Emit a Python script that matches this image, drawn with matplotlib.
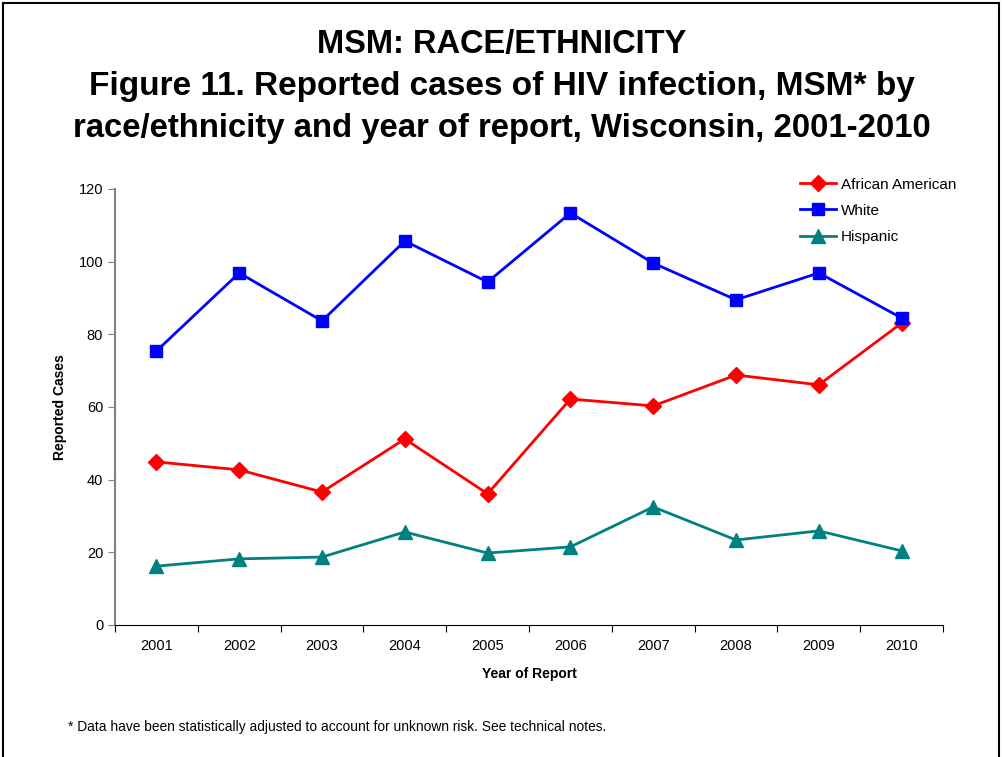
import matplotlib
matplotlib.use("Agg")
import matplotlib.pyplot as plt
from matplotlib.patches import Rectangle

years = ["2001", "2002", "2003", "2004", "2005", "2006", "2007", "2008", "2009", "2010"]
african_american = [44.9, 42.7, 36.6, 51.2, 36.1, 62.2, 60.3, 68.8, 66.1, 83.1]
white = [75.4, 96.9, 83.7, 105.7, 94.4, 113.4, 99.6, 89.5, 96.9, 84.5]
hispanic = [16.2, 18.2, 18.7, 25.6, 19.8, 21.5, 32.5, 23.4, 25.9, 20.4]

plt.rcParams['font.family'] = ['Liberation Sans', 'DejaVu Sans']

fig = plt.figure(figsize=(10.03, 7.57), dpi=100)
fig.patches.append(Rectangle((3/1003, -0.01), 996/1003, 1 - 3/757 + 0.01, transform=fig.transFigure,
                             fill=False, edgecolor='black', linewidth=1.5))

ax = fig.add_axes([115/1003, 1 - 625/757, (943 - 115)/1003, (625 - 189)/757])
x = list(range(len(years)))
ax.plot(x, african_american, color='#FF0000', marker='D', markersize=8, linewidth=2, label='African American')
ax.plot(x, white, color='#0000FF', marker='s', markersize=9, linewidth=2, label='White')
ax.plot(x, hispanic, color='#008080', marker='^', markersize=10, linewidth=2, label='Hispanic')

ax.set_xlim(-0.5, len(years) - 0.5)
ax.set_ylim(0, 120)
ax.set_yticks(range(0, 121, 20))
ax.set_xticks([i - 0.5 for i in range(len(years) + 1)])
ax.set_xticklabels([])
ax.set_xticks(x, minor=True)
ax.set_xticklabels(years, minor=True)
ax.tick_params(axis='x', which='minor', length=0, pad=10, labelsize=10.5)
ax.tick_params(axis='x', which='major', length=5, direction='out')
ax.tick_params(axis='y', length=5, direction='out', labelsize=10.5, color='#808080')

for s in ['top', 'right']:
    ax.spines[s].set_visible(False)
ax.spines['left'].set_color('#808080')
ax.spines['left'].set_linewidth(1.5)
ax.spines['bottom'].set_color('black')

ax.set_xlabel('Year of Report', fontweight='bold', fontsize=10, labelpad=10)
ax.set_ylabel('Reported Cases', fontweight='bold', fontsize=10, labelpad=8)

leg = ax.legend(loc='upper left', bbox_to_anchor=(795/1003, 1 - 173/757), bbox_transform=fig.transFigure,
                frameon=False, fontsize=11, handlelength=2.4, handletextpad=0.3, labelspacing=0.8,
                borderaxespad=0, borderpad=0.3)

fig.text(0.5, 1 - 45/757, 'MSM: RACE/ETHNICITY', ha='center', va='center', fontsize=23.5, fontweight='bold')
fig.text(0.5, 1 - 87/757, 'Figure 11. Reported cases of HIV infection, MSM* by', ha='center', va='center', fontsize=24, fontweight='bold')
fig.text(0.5, 1 - 128/757, 'race/ethnicity and year of report, Wisconsin, 2001-2010', ha='center', va='center', fontsize=23.7, fontweight='bold')
fig.text(68/1003, 1 - 727/757, '* Data have been statistically adjusted to account for unknown risk. See technical notes.',
         ha='left', va='center', fontsize=9.9)

fig.savefig('out.png', dpi=100)
